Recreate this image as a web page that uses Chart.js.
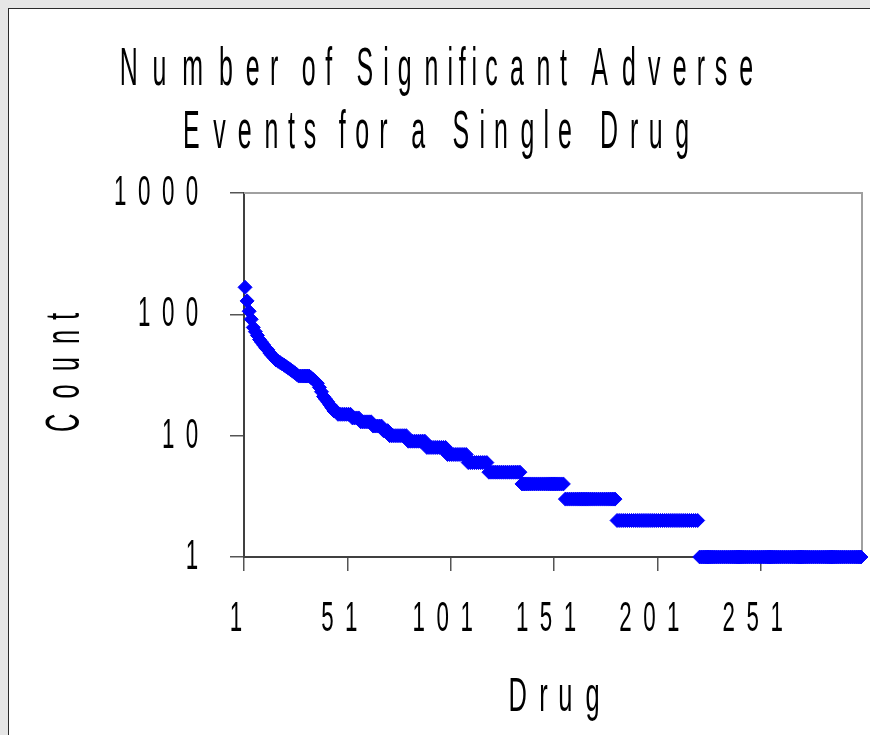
<!DOCTYPE html>
<html>
<head>
<meta charset="utf-8">
<title>Number of Significant Adverse Events for a Single Drug</title>
<script src="https://cdn.jsdelivr.net/npm/chart.js@4.4.1/dist/chart.umd.min.js"></script>
<style>
  html, body { margin: 0; padding: 0; background: #e6e6e6; overflow: hidden; }
  #panel {
    position: absolute; left: 8px; top: 8px;
    width: 900px; height: 760px;
    background: #fff; border: 1px solid #2a2a2a;
  }
  #chart { display: block; }
</style>
</head>
<body>
<div id="panel">
  <canvas id="chart" width="861" height="726"></canvas>
</div>
<script>
// Count of significant adverse events per drug, drugs sorted by count (drug 1..299)
const eventCounts = [
  // drugs 1-45
  167, 129, 106, 91, 78, 72, 67, 62, 59, 56,
  53, 51, 48, 46, 44, 42, 41, 40, 39, 38,
  37, 36, 35, 34, 33, 32, 31, 31, 31, 31,
  31, 31, 30, 29, 28, 27, 25, 23, 21, 20,
  19, 18, 17, 16, 16,
  // drugs 46-70
  15, 15, 15, 15, 15, 15, 15,
  14, 14, 14, 14,
  13, 13, 13, 13, 13, 13,
  12, 12, 12, 12, 12,
  11, 11, 11,
  // drugs 71-118
  10, 10, 10, 10, 10, 10, 10, 10, 10,
  9, 9, 9, 9, 9, 9, 9, 9, 9,
  8, 8, 8, 8, 8, 8, 8, 8, 8, 8,
  7, 7, 7, 7, 7, 7, 7, 7, 7, 7,
  6, 6, 6, 6, 6, 6, 6, 6, 6, 6,
  // drugs 119-134
  5, 5, 5, 5, 5, 5, 5, 5, 5, 5, 5, 5, 5, 5, 5, 5,
  // drugs 135-155
  4, 4, 4, 4, 4, 4, 4, 4, 4, 4,
  4, 4, 4, 4, 4, 4, 4, 4, 4, 4, 4,
  // drugs 156-180
  3, 3, 3, 3, 3, 3, 3, 3, 3, 3,
  3, 3, 3, 3, 3, 3, 3, 3, 3, 3,
  3, 3, 3, 3, 3,
  // drugs 181-220
  2, 2, 2, 2, 2, 2, 2, 2, 2, 2,
  2, 2, 2, 2, 2, 2, 2, 2, 2, 2,
  2, 2, 2, 2, 2, 2, 2, 2, 2, 2,
  2, 2, 2, 2, 2, 2, 2, 2, 2, 2,
  // drugs 221-299
  1, 1, 1, 1, 1, 1, 1, 1, 1, 1,
  1, 1, 1, 1, 1, 1, 1, 1, 1, 1,
  1, 1, 1, 1, 1, 1, 1, 1, 1, 1,
  1, 1, 1, 1, 1, 1, 1, 1, 1, 1,
  1, 1, 1, 1, 1, 1, 1, 1, 1, 1,
  1, 1, 1, 1, 1, 1, 1, 1, 1, 1,
  1, 1, 1, 1, 1, 1, 1, 1, 1, 1,
  1, 1, 1, 1, 1, 1, 1, 1, 1
];

const xTickDrugs = [1, 51, 101, 151, 201, 251];
const yTickCounts = [1, 10, 100, 1000];
const chartTitle = ["Number of Significant Adverse", "Events for a Single Drug"];
const xTitle = "Drug";
const yTitle = "Count";

const FONT = "'Liberation Sans', Arial, sans-serif";
const TITLE_SIZE = 48;
const SQUEEZE = 0.52;   // glyphs are drawn narrow but keep their normal advance
const TITLE_TALL = 1.1; // the chart title glyphs are a bit taller too

const canvas = document.getElementById("chart");
const ctx = canvas.getContext("2d");

// Draw each glyph squeezed horizontally, centred in its normal advance box
ctx.fillText = function (text, x, y) {
  text = String(text);
  const tall = this.font.includes(TITLE_SIZE + "px") ? TITLE_TALL : 1;
  const align = this.textAlign;
  const total = this.measureText(text).width;
  let left = x;
  if (align === "center") left = x - total / 2;
  else if (align === "right" || align === "end") left = x - total;
  this.save();
  this.textAlign = "center";
  for (const ch of text) {
    const adv = this.measureText(ch).width;
    this.save();
    this.translate(left + adv / 2, y);
    this.scale(SQUEEZE, tall);
    CanvasRenderingContext2D.prototype.fillText.call(this, ch, 0, 0);
    this.restore();
    left += adv;
  }
  this.restore();
};

// Gray frame on the top and right of the plot area
const plotFrame = {
  id: "plotFrame",
  beforeDatasetsDraw(chart) {
    const { ctx, chartArea: a } = chart;
    ctx.save();
    ctx.strokeStyle = "#a0a0a0";
    ctx.lineWidth = 2;
    ctx.beginPath();
    ctx.moveTo(a.left, a.top);
    ctx.lineTo(a.right, a.top);
    ctx.lineTo(a.right, a.bottom);
    ctx.stroke();
    ctx.restore();
  }
};

const points = eventCounts.map((c, k) => ({ x: k + 1, y: c }));

new Chart(ctx, {
  type: "scatter",
  data: {
    datasets: [{
      data: points,
      pointStyle: "rectRot",
      pointRadius: 7,
      borderWidth: 1,
      backgroundColor: "#0000ff",
      borderColor: "#0000ff",
      clip: false
    }]
  },
  options: {
    responsive: false,
    animation: false,
    layout: { padding: { left: 0, right: 8, top: 0, bottom: 0 } },
    plugins: {
      legend: { display: false },
      tooltip: { enabled: false },
      title: {
        display: true,
        text: chartTitle,
        color: "#000",
        font: { family: FONT, size: TITLE_SIZE, weight: "normal", lineHeight: 63 / TITLE_SIZE },
        padding: { top: 30, bottom: 28 }
      }
    },
    scales: {
      x: {
        type: "linear",
        min: 0.5,
        max: eventCounts.length + 0.5,
        afterBuildTicks: scale => {
          scale.ticks = xTickDrugs.map(v => ({ value: v - 0.5 }));
        },
        afterFit: scale => { scale.height = 178; },
        ticks: {
          callback: v => String(v + 0.5),
          color: "#000",
          font: { family: FONT, size: 43, lineHeight: 1 },
          padding: 27,
          labelOffset: -8,
          autoSkip: false,
          maxRotation: 0
        },
        grid: { drawOnChartArea: false, drawTicks: true, tickLength: 14, color: "#555", lineWidth: 1.5 },
        border: { color: "#404040", width: 2 },
        title: {
          display: true,
          text: xTitle,
          color: "#000",
          font: { family: FONT, size: 49, lineHeight: 1 },
          padding: { top: 0, bottom: 13 }
        }
      },
      y: {
        type: "logarithmic",
        min: 1,
        max: 1000,
        afterBuildTicks: scale => {
          scale.ticks = yTickCounts.map(v => ({ value: v }));
        },
        afterFit: scale => { scale.width = 235; },
        ticks: {
          callback: v => String(v),
          color: "#000",
          font: { family: FONT, size: 43, lineHeight: 1 },
          padding: 26
        },
        grid: { drawOnChartArea: false, drawTicks: true, tickLength: 14, color: "#555", lineWidth: 1.5 },
        border: { color: "#404040", width: 2 },
        title: {
          display: true,
          text: yTitle,
          color: "#000",
          font: { family: FONT, size: 49, lineHeight: 1 },
          padding: { top: 32, bottom: 0 }
        }
      }
    }
  },
  plugins: [plotFrame]
});
</script>
</body>
</html>
